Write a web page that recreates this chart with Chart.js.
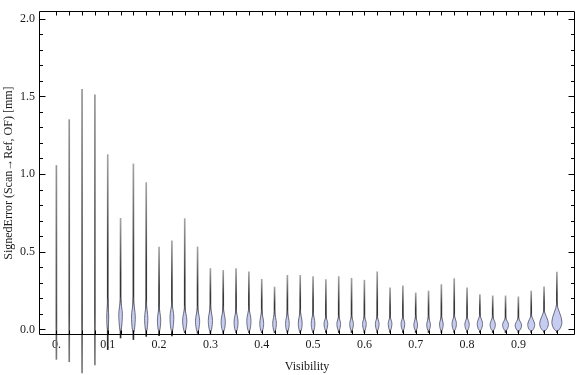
<!DOCTYPE html>
<html>
<head>
<meta charset="utf-8">
<script src="https://cdn.jsdelivr.net/npm/chart.js@4.4.1/dist/chart.umd.min.js"></script>
<style>
  html, body { margin: 0; padding: 0; background: #ffffff; }
  #wrap { width: 576px; height: 375px; position: relative; }
</style>
</head>
<body>
<div id="wrap"><canvas id="c" width="576" height="375"></canvas></div>
<script>
// ---- data ----
const visibility = [0, 0.025, 0.05, 0.075, 0.1, 0.125, 0.15, 0.175, 0.2, 0.225,
  0.25, 0.275, 0.3, 0.325, 0.35, 0.375, 0.4, 0.425, 0.45, 0.475,
  0.5, 0.525, 0.55, 0.575, 0.6, 0.625, 0.65, 0.675, 0.7, 0.725,
  0.75, 0.775, 0.8, 0.825, 0.85, 0.875, 0.9, 0.925, 0.95, 0.975];

const errMax = [1.055, 1.35, 1.545, 1.51, 1.125, 0.715, 1.065, 0.945, 0.53, 0.57,
  0.713, 0.531, 0.392, 0.38, 0.392, 0.37, 0.323, 0.273, 0.348, 0.348,
  0.34, 0.321, 0.34, 0.329, 0.317, 0.371, 0.268, 0.281, 0.235, 0.247,
  0.289, 0.327, 0.268, 0.224, 0.216, 0.216, 0.21, 0.247, 0.274, 0.369];

const errMin = [-0.193, -0.208, -0.28, -0.229, -0.13, -0.055, -0.065, -0.045, -0.04, -0.042,
  -0.02, -0.025, -0.025, -0.025, -0.02, -0.02, -0.02, -0.02, -0.02, -0.02,
  -0.02, -0.02, -0.02, -0.02, -0.02, -0.02, -0.02, -0.02, -0.02, -0.02,
  -0.02, -0.02, -0.02, -0.02, -0.02, -0.02, -0.02, -0.02, -0.02, -0.02];

// violin body: bottom, widest point, top (error values) and half width (visibility units)
const bodyLow = [0, 0, 0, 0, -0.005, -0.01, -0.02, -0.015, -0.015, -0.015,
  -0.015, -0.015, -0.015, -0.015, -0.015, -0.015, -0.015, -0.015, -0.015, -0.015,
  -0.015, -0.008, -0.008, -0.008, -0.008, -0.008, -0.008, -0.008, -0.008, -0.008,
  -0.008, -0.008, -0.008, -0.008, -0.008, -0.008, -0.01, -0.01, -0.01, -0.01];
const bodyPeak = [0, 0, 0, 0, 0.08, 0.1, 0.08, 0.07, 0.06, 0.08,
  0.06, 0.055, 0.058, 0.05, 0.048, 0.058, 0.04, 0.04, 0.04, 0.04,
  0.04, 0.038, 0.038, 0.038, 0.038, 0.038, 0.038, 0.038, 0.03, 0.03,
  0.035, 0.038, 0.033, 0.038, 0.031, 0.031, 0.027, 0.031, 0.038, 0.048];
const bodyHigh = [0, 0, 0, 0, 0.2, 0.205, 0.205, 0.185, 0.164, 0.185,
  0.153, 0.15, 0.16, 0.15, 0.14, 0.15, 0.13, 0.12, 0.12, 0.13,
  0.12, 0.09, 0.09, 0.09, 0.09, 0.09, 0.09, 0.09, 0.09, 0.09,
  0.09, 0.1, 0.09, 0.1, 0.09, 0.08, 0.08, 0.1, 0.132, 0.174];
const bodyHalfWidth = [0, 0, 0, 0, 0.0019, 0.0035, 0.0037, 0.0032, 0.0032, 0.0037,
  0.0041, 0.0041, 0.0041, 0.0041, 0.0039, 0.0041, 0.0038, 0.0036, 0.0036, 0.0038,
  0.0036, 0.0036, 0.0036, 0.0036, 0.0036, 0.0036, 0.0036, 0.0036, 0.0036, 0.0036,
  0.0036, 0.0043, 0.0043, 0.0052, 0.0052, 0.0058, 0.0063, 0.0068, 0.0085, 0.0098];

const xTickValues = [0, 0.1, 0.2, 0.3, 0.4, 0.5, 0.6, 0.7, 0.8, 0.9];
const xTickLabels = ["0.", "0.1", "0.2", "0.3", "0.4", "0.5", "0.6", "0.7", "0.8", "0.9"];
const yTickValues = [0, 0.5, 1, 1.5, 2];
const yTickLabels = ["0.0", "0.5", "1.0", "1.5", "2.0"];

const xTitle = "Visibility";
const yTitle = "SignedError (Scan\u2192Ref, OF) [mm]";

// ---- styles ----
const FONT = "'Liberation Serif', 'DejaVu Serif', serif";
const TEXT = '#1a1a1a';
const BODY_FILL = 'rgb(198,204,242)';
const BODY_EDGE = '#505060';

function whiskerGradient(c) {
  if (c.type !== 'data') return '#777';
  const chart = c.chart;
  const ys = chart.scales.y;
  if (!ys || !chart.chartArea) return '#777';
  const i = c.dataIndex;
  const yTop = ys.getPixelForValue(errMax[i]);
  const yBot = ys.getPixelForValue(errMin[i]);
  if (!isFinite(yTop) || !isFinite(yBot) || yBot - yTop < 1) return '#666';
  const g = chart.ctx.createLinearGradient(0, yTop, 0, yBot);
  if (bodyHalfWidth[i] > 0) {
    const yHi = ys.getPixelForValue(bodyHigh[i] + (errMax[i] - bodyHigh[i]) * 0.3);
    const t = Math.min(0.95, Math.max(0.05, (yHi - yTop) / (yBot - yTop)));
    g.addColorStop(0, 'rgb(165,165,165)');
    g.addColorStop(t, 'rgb(55,55,55)');
    g.addColorStop(1, 'rgb(40,40,40)');
  } else {
    g.addColorStop(0, 'rgb(150,150,150)');
    g.addColorStop(0.45, 'rgb(100,100,100)');
    g.addColorStop(0.8, 'rgb(75,75,75)');
    g.addColorStop(1, 'rgb(125,125,125)');
  }
  return g;
}

const violinBodies = {
  id: 'violinBodies',
  afterDatasetsDraw(chart) {
    const {ctx, scales: {x, y}} = chart;
    ctx.save();
    for (let i = 0; i < visibility.length; i++) {
      if (!(bodyHalfWidth[i] > 0)) continue;
      const cx = x.getPixelForValue(visibility[i]);
      const w = x.getPixelForValue(visibility[i] + bodyHalfWidth[i]) - cx;
      const yl = y.getPixelForValue(bodyLow[i]);
      const yp = y.getPixelForValue(bodyPeak[i]);
      const yh = y.getPixelForValue(bodyHigh[i]);
      ctx.beginPath();
      ctx.moveTo(cx, yl);
      ctx.bezierCurveTo(cx + w * 0.5, yl, cx + w, yp + (yl - yp) * 0.45, cx + w, yp);
      ctx.bezierCurveTo(cx + w, yp - (yp - yh) * 0.3, cx + w * 0.12, yh + (yp - yh) * 0.4, cx, yh);
      ctx.bezierCurveTo(cx - w * 0.12, yh + (yp - yh) * 0.4, cx - w, yp - (yp - yh) * 0.3, cx - w, yp);
      ctx.bezierCurveTo(cx - w, yp + (yl - yp) * 0.45, cx - w * 0.5, yl, cx, yl);
      ctx.closePath();
      ctx.fillStyle = BODY_FILL;
      ctx.fill();
      ctx.lineWidth = 0.8;
      ctx.strokeStyle = BODY_EDGE;
      ctx.stroke();
    }
    ctx.restore();
  }
};

const frame = {
  id: 'frame',
  afterDatasetsDraw(chart) {
    const {ctx, chartArea: a, scales: {x, y}} = chart;
    ctx.save();
    ctx.strokeStyle = '#000';
    ctx.lineWidth = 1;
    const L = Math.round(a.left) + 0.5, R = Math.round(a.right) - 0.5;
    const T = Math.round(a.top) + 0.5, B = Math.round(a.bottom) - 0.5;
    ctx.beginPath();
    ctx.rect(L, T, R - L, B - T);
    for (let k = 0; k <= 20; k++) {
      const v = k / 10;
      const py = Math.round(y.getPixelForValue(v)) + 0.5;
      const len = (k % 5 === 0) ? 6 : 3.5;
      ctx.moveTo(L, py); ctx.lineTo(L + len, py);
      ctx.moveTo(R, py); ctx.lineTo(R - len, py);
    }
    for (let i = 0; i < visibility.length; i++) {
      const px = Math.round(x.getPixelForValue(visibility[i])) + 0.5;
      ctx.moveTo(px, B); ctx.lineTo(px, B - 4);
      ctx.moveTo(px, T); ctx.lineTo(px, T + 4);
    }
    ctx.stroke();
    ctx.restore();
  }
};

const whiskerData = visibility.map((v, i) => ({x: v, y: [errMin[i], errMax[i]]}));

new Chart(document.getElementById('c'), {
  type: 'bar',
  data: {
    datasets: [{
      data: whiskerData,
      backgroundColor: whiskerGradient,
      borderWidth: 0,
      barThickness: 1,
      clip: false
    }]
  },
  plugins: [violinBodies, frame],
  options: {
    responsive: false,
    animation: false,
    events: [],
    layout: { padding: { left: 0, right: 1, top: 4, bottom: 0 } },
    plugins: { legend: { display: false }, tooltip: { enabled: false } },
    scales: {
      x: {
        type: 'linear',
        offset: false,
        min: -0.0339,
        max: 1.0103,
        grid: { display: false, drawTicks: false, offset: false },
        border: { display: false },
        afterBuildTicks: (s) => { s.ticks = xTickValues.map(v => ({value: v})); },
        afterFit: (s) => { s.height = 40; },
        ticks: {
          padding: 3,
          autoSkip: false,
          maxRotation: 0,
          color: TEXT,
          font: { family: FONT, size: 12 },
          callback: (v) => { const k = xTickValues.indexOf(v); return k >= 0 ? xTickLabels[k] : ''; }
        },
        title: { display: true, text: xTitle, color: TEXT, font: { family: FONT, size: 12 }, padding: { top: 0, bottom: 1 } }
      },
      y: {
        type: 'linear',
        min: -0.036,
        max: 2.048,
        grid: { display: false, drawTicks: false },
        border: { display: false },
        afterBuildTicks: (s) => { s.ticks = yTickValues.map(v => ({value: v})); },
        afterFit: (s) => { s.width = 39; },
        ticks: {
          padding: 4,
          color: TEXT,
          font: { family: FONT, size: 12 },
          callback: (v) => { const k = yTickValues.indexOf(v); return k >= 0 ? yTickLabels[k] : ''; }
        },
        title: { display: true, text: yTitle, color: TEXT, font: { family: FONT, size: 12 }, padding: { top: 2, bottom: 0 } }
      }
    }
  }
});
</script>
</body>
</html>
